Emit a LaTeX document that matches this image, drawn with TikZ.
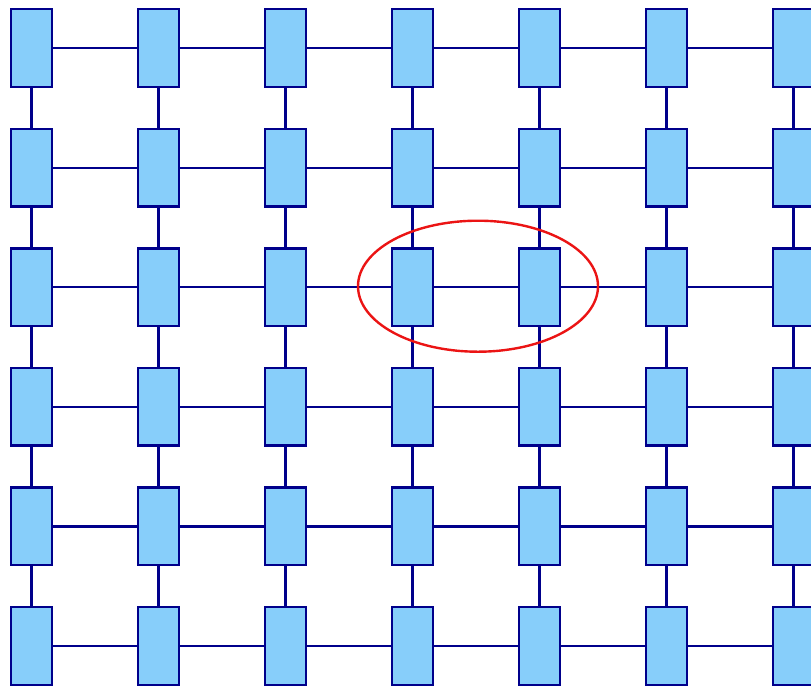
\documentclass[tikz,border=0pt]{standalone}
\usetikzlibrary{calc, shapes.geometric}
\definecolor{cellfill}{RGB}{135,206,250}
\definecolor{cellline}{RGB}{0,0,139}
\definecolor{ringred}{RGB}{235,20,20}

\begin{document}
\begin{tikzpicture}[x=1pt, y=-1pt,
  cell/.style={draw=cellline, fill=cellfill, line width=2.4pt, minimum width=40.5pt, minimum height=77.5pt, inner sep=0pt},
  link/.style={draw=cellline, line width=2.2pt}]
\useasboundingbox (0,0) rectangle (811,689);
\clip (0,0) rectangle (811,689);
% grid of cells
\foreach \c in {0,...,6}
  \foreach \r in {0,...,5}
    \node[cell] (b-\c-\r) at ({31.5+127*\c},{48+119.6*\r}) {};
% horizontal links
\foreach \c [evaluate=\c as \n using int(\c+1)] in {0,...,5}
  \foreach \r in {0,...,5}
    \draw[link] (b-\c-\r) -- (b-\n-\r);
% vertical links
\foreach \r [evaluate=\r as \n using int(\r+1)] in {0,...,4}
  \foreach \c in {0,...,6}
    \draw[link] (b-\c-\r) -- (b-\c-\n);
% highlighted pair
\node[ellipse, draw=ringred, line width=2.4pt, minimum width=240pt, minimum height=131pt, inner sep=0pt] (grp) at ($(b-3-2)!0.5!(b-4-2)+(2,-1)$) {};
\end{tikzpicture}
\end{document}
